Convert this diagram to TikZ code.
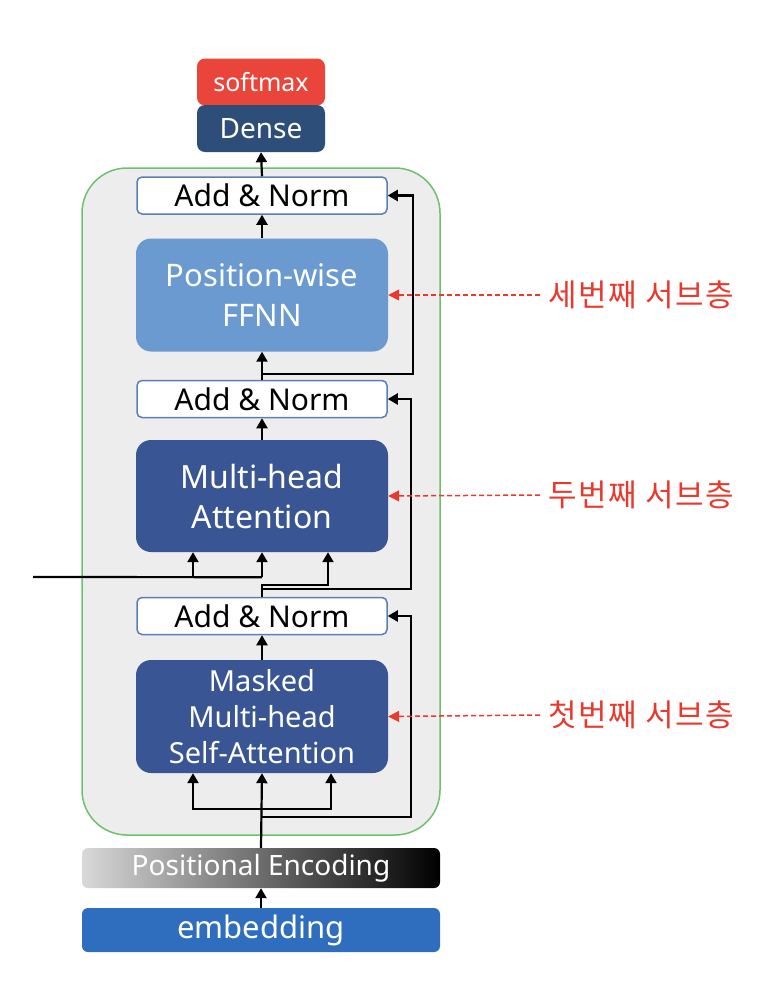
\documentclass[tikz,border=0pt]{standalone}
\usepackage{fontspec}
\setmainfont{Noto Sans}
\newfontfamily\kofont[LetterSpace=5]{Noto Sans CJK KR}
\usetikzlibrary{arrows.meta,calc}
\definecolor{cSoft}{RGB}{233,69,59}
\definecolor{cDense}{RGB}{45,78,120}
\definecolor{cFfnn}{RGB}{106,154,208}
\definecolor{cAtt}{RGB}{58,85,147}
\definecolor{cAnBorder}{RGB}{91,127,181}
\definecolor{cCont}{RGB}{237,237,237}
\definecolor{cGreen}{RGB}{108,194,108}
\definecolor{cEmb}{RGB}{47,110,190}
\definecolor{cRed}{RGB}{232,57,46}
\begin{document}
\begin{tikzpicture}[x=1pt,y=-1pt,
  bigbox/.style={rounded corners=15pt, minimum width=252pt, minimum height=113pt, text=white, align=center, inner sep=0pt, font=\fontsize{31}{40}\selectfont},
  anbox/.style={draw=cAnBorder, line width=1.5pt, fill=white, rounded corners=5pt, minimum width=250pt, minimum height=37pt, inner sep=0pt, font=\fontsize{30}{30}\selectfont},
  topbox/.style={rounded corners=8pt, minimum width=128pt, minimum height=47pt, text=white, inner sep=0pt},
  widebox/.style={rounded corners=6pt, minimum width=358pt, inner sep=0pt, text=white},
  arr/.style={line width=2.2pt, -{Triangle[length=10pt,width=11pt]}},
  ln/.style={line width=2.2pt},
  redarr/.style={cRed, line width=1.5pt, dash pattern=on 5pt off 3pt, -{Triangle[length=11pt,width=11pt]}},
  kolabel/.style={cRed, anchor=west, inner sep=0pt, font=\kofont\fontsize{31}{33}\selectfont}
]
\useasboundingbox (0,0) rectangle (760,994);

% container
\node[draw=cGreen, line width=1.5pt, fill=cCont, rounded corners=45pt, minimum width=358pt, minimum height=667pt] (enc) at (261,501.5) {};

% top boxes
\node[topbox, fill=cSoft, font=\fontsize{25}{27}\selectfont] (soft) at (261,82) {softmax};
\node[topbox, fill=cDense, font=\fontsize{28}{30}\selectfont] (dense) at (261,128.5) {Dense};

% decoder blocks
\node[anbox] (an1) at (262,195.5) {Add \& Norm};
\node[bigbox, fill=cFfnn] (ffnn) at (262,295) {Position-wise\\FFNN};
\node[anbox] (an2) at (262,399) {Add \& Norm};
\node[bigbox, fill=cAtt, minimum height=112pt, font=\fontsize{32}{40}\selectfont] (mha) at (262,496) {Multi-head\\Attention};
\node[anbox] (an3) at (262,616) {Add \& Norm};
\node[bigbox, fill=cAtt, font=\fontsize{29}{36}\selectfont] (mask) at (262,716.5) {Masked\\Multi-head\\Self-Attention};

% bottom boxes
\shade[left color=black!15, right color=black, rounded corners=6pt] (82,848) rectangle (440,888);
\node[widebox, minimum height=40pt, font=\fontsize{28}{30}\selectfont] (pe) at (261,868) {Positional Encoding};
\node[widebox, fill=cEmb, minimum height=44pt, font=\fontsize{31}{33}\selectfont] (emb) at (261,930) {embedding};

% main vertical arrows
\draw[arr] (an1.north) -- (dense.south);
\draw[arr] (ffnn.north) -- (an1.south);
\draw[arr] (an2.north) -- (ffnn.south);
\draw[arr] (mha.north) -- (an2.south);
\draw[arr] (mask.north) -- (an3.south);
\draw[arr] (emb.north) -- (pe.south);

% residual 3 (top)
\coordinate (r3) at ($(an2.north)+(0,-6)$);
\draw[arr] (r3) -| ($(an1.east)+(25,0)$) -- (an1.east);

% second sublayer inputs
\coordinate (a3top) at ($(an3.north)+(0,-12)$);
\draw[arr] (an3.north) -- (a3top) -| ($(mha.south)+(66,0)$);
\coordinate (r2) at ($(an3.north)+(0,-8)$);
\draw[arr] (r2) -| ($(an2.east)+(23,0)$) -- (an2.east);
\coordinate (encin) at (33,577);
\draw[ln] (encin) -- ($(mha.south)+(0,25)$);
\draw[arr] ($(mha.south)+(-69,25)$) -- ($(mha.south)+(-69,0)$);
\draw[arr] ($(mha.south)+(0,25)$) -- (mha.south);

% first sublayer inputs
\coordinate (b1) at ($(mask.south)+(0,36)$);
\draw[arr] (pe.north) -- (mask.south);
\draw[arr] (b1) -- ($(mask.south)+(-69,36)$) -- ($(mask.south)+(-69,0)$);
\draw[arr] (b1) -- ($(mask.south)+(69,36)$) -- ($(mask.south)+(69,0)$);
\coordinate (r1) at ($(mask.south)+(0,44)$);
\draw[arr] (r1) -| ($(an3.east)+(23,0)$) -- (an3.east);

% red labels
\node[kolabel] (l3) at (548,295) {세번째 서브층};
\node[kolabel] (l2) at (548,495) {두번째 서브층};
\node[kolabel] (l1) at (548,715) {첫번째 서브층};
\draw[redarr] ($(l3.west)+(-8,0)$) -- (ffnn.east);
\draw[redarr] ($(l2.west)+(-8,0)$) -- (mha.east);
\draw[redarr] ($(l1.west)+(-8,0)$) -- (mask.east);
\end{tikzpicture}
\end{document}
